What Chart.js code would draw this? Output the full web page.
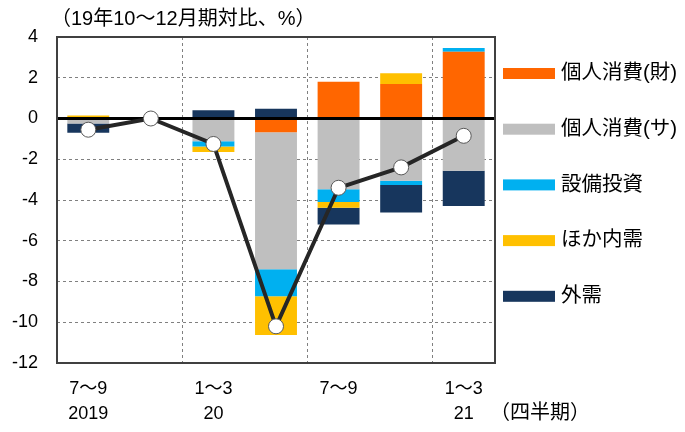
<!DOCTYPE html>
<html>
<head>
<meta charset="utf-8">
<script src="https://cdn.jsdelivr.net/npm/chart.js@4/dist/chart.umd.min.js"></script>
<style>
  body { margin: 0; background: #fff; }
  #wrap { width: 685px; height: 432px; }
</style>
</head>
<body>
<div id="wrap"><canvas id="gdpChart"></canvas></div>
<script>
// quarters, tick labels as two lines (month range / year)
var quarters = [["7～9", "2019"], ["", ""], ["1～3", "20"], ["", ""], ["7～9", ""], ["", ""], ["1～3", "21"]];

// contributions, % points vs 2019 Q4
var goods    = [0, 0, 0, -0.67, 1.80, 1.69, 3.27];
var services = [-0.25, 0, -1.12, -6.73, -3.47, -3.05, -2.57];
var capex    = [0, 0, -0.25, -1.32, -0.63, -0.21, 0.19];
var otherDom = [0.15, 0, -0.28, -1.90, -0.28, 0.53, 0];
var external = [-0.45, 0, 0.41, 0.48, -0.82, -1.35, -1.73];
var total    = [-0.55, 0, -1.25, -10.2, -3.4, -2.4, -0.85];

var yTicks = [4, 2, 0, -2, -4, -6, -8, -10, -12];

var FONT = '"Liberation Sans", "Noto Sans CJK JP", sans-serif';

// extra drawing: frame, zero line, custom legend, captions
var decor = {
  id: 'decor',
  beforeDatasetDraw: function(chart, args) {
    if (args.index !== 0) return;
    var a = chart.chartArea, ctx = chart.ctx;
    var y0 = chart.scales.y.getPixelForValue(0);
    ctx.save();
    ctx.strokeStyle = '#000';
    ctx.lineWidth = 3;
    ctx.beginPath();
    ctx.moveTo(a.left, y0);
    ctx.lineTo(a.right, y0);
    ctx.stroke();
    ctx.restore();
  },
  afterDraw: function(chart) {
    var a = chart.chartArea, ctx = chart.ctx;
    ctx.save();
    ctx.strokeStyle = '#404040';
    ctx.lineWidth = 2;
    ctx.strokeRect(a.left, a.top, a.right - a.left, a.bottom - a.top);

    ctx.fillStyle = '#000';
    ctx.font = '20px ' + FONT;
    ctx.textBaseline = 'middle';
    ctx.textAlign = 'left';
    ctx.fillText('（19年10～12月期対比、%）', a.left - 6, 19);
    ctx.fillText('（四半期）', a.right - 5, 413);

    // legend
    var bars = chart.data.datasets.filter(function(d) { return d.type !== 'line'; });
    bars.forEach(function(d, i) {
      var cy = 73.5 + i * 55.7;
      ctx.fillStyle = d.backgroundColor;
      ctx.fillRect(a.right + 8, cy - 5.5, 52, 11);
      ctx.fillStyle = '#000';
      ctx.font = '20.5px ' + FONT;
      ctx.fillText(d.label, a.right + 66, cy);
    });
    ctx.restore();
  }
};

new Chart(document.getElementById('gdpChart'), {
  type: 'bar',
  data: {
    labels: quarters,
    datasets: [
      {
        type: 'line',
        label: '実質GDP',
        data: total,
        order: 0,
        borderColor: '#262626',
        borderWidth: 4,
        pointRadius: 7.5,
        pointBackgroundColor: '#fff',
        pointBorderColor: '#595959',
        pointBorderWidth: 1,
        tension: 0
      },
      { label: '個人消費(財)', data: goods, backgroundColor: '#FF6600', order: 1 },
      { label: '個人消費(サ)', data: services, backgroundColor: '#BFBFBF', order: 1 },
      { label: '設備投資', data: capex, backgroundColor: '#00B0F0', order: 1 },
      { label: 'ほか内需', data: otherDom, backgroundColor: '#FFC000', order: 1 },
      { label: '外需', data: external, backgroundColor: '#17365D', order: 1 }
    ]
  },
  options: {
    responsive: true,
    maintainAspectRatio: false,
    animation: false,
    categoryPercentage: 0.67,
    barPercentage: 1,
    layout: { padding: { top: 37, right: 190, left: 0, bottom: 0 } },
    plugins: {
      legend: { display: false },
      tooltip: { enabled: false }
    },
    scales: {
      x: {
        stacked: true,
        afterFit: function(s) { s.height = 69; },
        grid: {
          offset: true,
          drawTicks: false,
          color: function(c) { return (c.index === 2 || c.index === 4 || c.index === 6) ? '#808080' : 'rgba(0,0,0,0)'; },
          lineWidth: 1
        },
        border: { display: false, dash: [3, 3] },
        ticks: {
          padding: 13,
          color: '#000',
          maxRotation: 0,
          autoSkip: false,
          font: { family: FONT, size: 18, lineHeight: 1.4 }
        }
      },
      y: {
        stacked: true,
        min: -12,
        max: 4,
        afterFit: function(s) { s.width = 57; },
        afterBuildTicks: function(s) { s.ticks = yTicks.map(function(v) { return { value: v }; }); },
        grid: { drawTicks: false, color: '#808080', lineWidth: 1 },
        border: { display: false, dash: [3, 3] },
        ticks: {
          padding: 19,
          color: '#000',
          font: { family: FONT, size: 18 }
        }
      }
    }
  },
  plugins: [decor]
});
</script>
</body>
</html>
